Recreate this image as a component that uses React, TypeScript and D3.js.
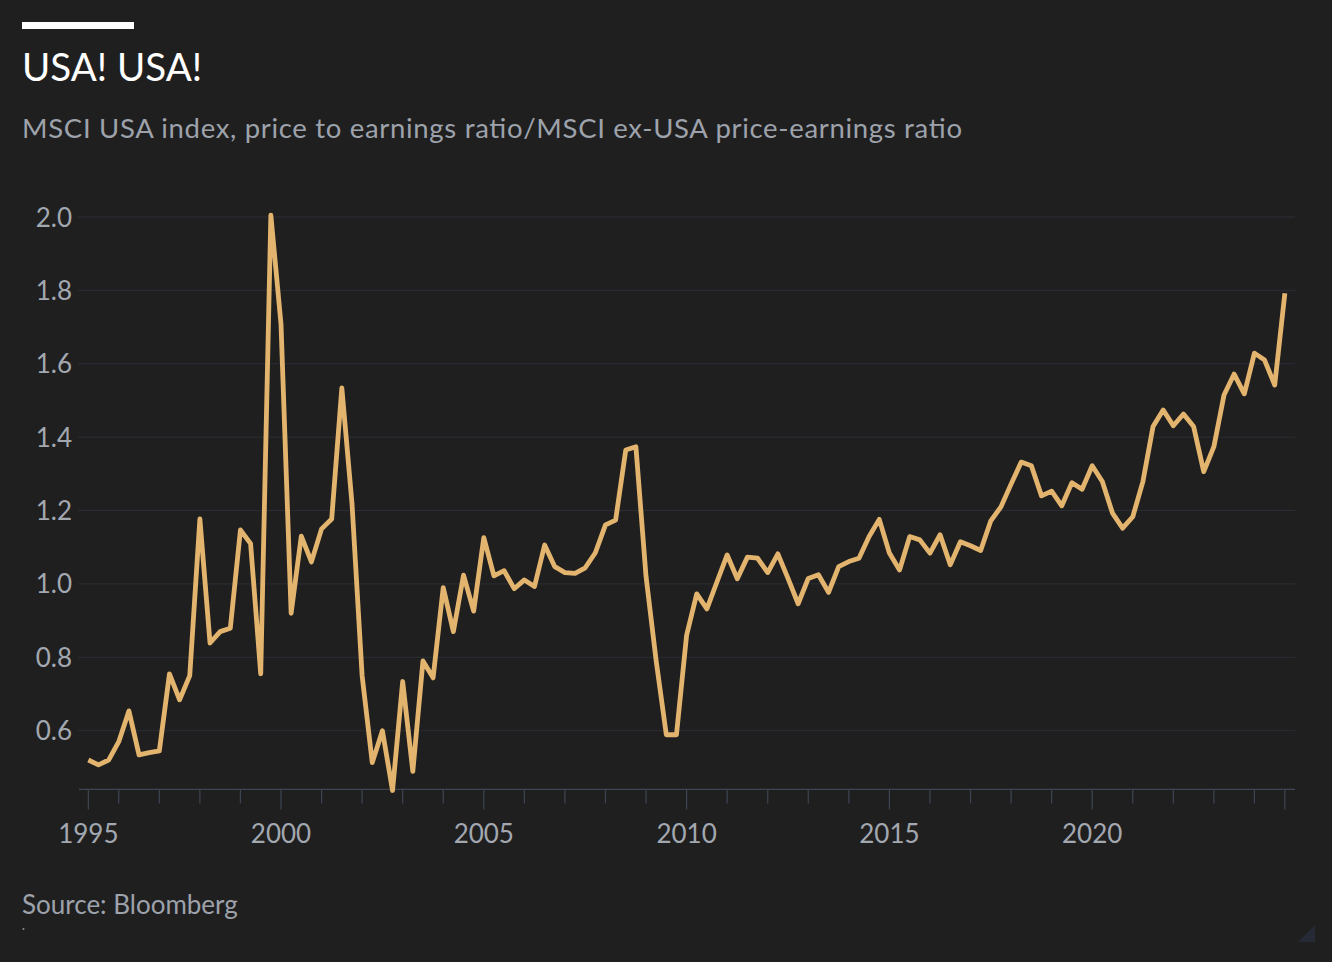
import React from "react";
import * as d3 from "d3";

// Quarterly data, first value = 1995 Q1 (quarter end), last = 2024 Q3
const START_YEAR = 1995;
const ratioValues: number[] = [
  0.52, 0.507, 0.52, 0.57, 0.654, 0.534, 0.54, 0.545,
  0.755, 0.684, 0.75, 1.177, 0.839, 0.87, 0.879, 1.147,
  1.11, 0.755, 2.005, 1.708, 0.92, 1.13, 1.06, 1.15,
  1.177, 1.534, 1.22, 0.75, 0.513, 0.6, 0.437, 0.734,
  0.489, 0.79, 0.744, 0.99, 0.87, 1.024, 0.926, 1.126,
  1.022, 1.036, 0.987, 1.011, 0.993, 1.106, 1.047, 1.031,
  1.029, 1.044, 1.085, 1.161, 1.174, 1.365, 1.374, 1.02,
  0.79, 0.589, 0.589, 0.86, 0.973, 0.932, 1.006, 1.079,
  1.014, 1.073, 1.07, 1.031, 1.082, 1.015, 0.946, 1.015,
  1.025, 0.977, 1.047, 1.061, 1.07, 1.129, 1.176, 1.084,
  1.038, 1.129, 1.12, 1.084, 1.134, 1.052, 1.115, 1.104,
  1.091, 1.172, 1.21, 1.272, 1.332, 1.322, 1.24, 1.253,
  1.213, 1.276, 1.258, 1.322, 1.279, 1.193, 1.152, 1.183,
  1.279, 1.429, 1.474, 1.431, 1.463, 1.429, 1.306, 1.374,
  1.515, 1.572, 1.518, 1.629, 1.61, 1.542, 1.792,
];

const yTicks = [0.6, 0.8, 1.0, 1.2, 1.4, 1.6, 1.8, 2.0];
const xLabelYears = [1995, 2000, 2005, 2010, 2015, 2020];
const minorYears = d3.range(1996, 2025);

const title = "USA! USA!";
const subtitle = "MSCI USA index, price to earnings ratio/MSCI ex-USA price-earnings ratio";
const source = "Source: Bloomberg";

const W = 1332;
const H = 962;
const FONT = "Lato, 'Open Sans', sans-serif";
const BG = "#1f1f20";
const LINE = "#e3b46e";
const TICK_TEXT = "#a3a8b0";
const SUB_TEXT = "#9da2ab";
const GRID = "#2b2e34";
const AXIS = "#3e4552";

export default function App() {
  const data = ratioValues.map((v, i) => ({ t: START_YEAR + 0.25 * (i + 1), v }));
  const x = d3.scaleLinear().domain([1995, 2025]).range([78.2, 1295]);
  const y = d3.scaleLinear().domain([0.44, 2.0]).range([789.4, 217]);
  const line = d3
    .line<{ t: number; v: number }>()
    .x((d) => x(d.t))
    .y((d) => y(d.v))
    .curve(d3.curveLinear);

  const firstT = data[0].t;
  const lastT = data[data.length - 1].t;
  const axisY = y(0.44);

  const majorTicks = [firstT, 2000, 2005, 2010, 2015, 2020, lastT];
  const minors = minorYears.filter((yr) => yr % 5 !== 0);

  return (
    <svg
      width={W}
      height={H}
      style={{ position: "absolute", left: 0, top: 0, display: "block" }}
      fontFamily={FONT}
    >
      <rect x={0} y={0} width={W} height={H} fill={BG} />
      <rect x={22} y={22} width={112} height={7} fill="#ffffff" />
      <text x={22} y={81} fill="#ffffff" fontSize={38.5}>
        {title}
      </text>
      <text
        x={22}
        y={138}
        fill={SUB_TEXT}
        fontSize={27.5}
        textLength={940}
        lengthAdjust="spacing"
      >
        {subtitle}
      </text>

      {yTicks.map((t) => (
        <g key={t}>
          <line x1={78} x2={1295} y1={y(t)} y2={y(t)} stroke={GRID} strokeWidth={1} />
          <text x={72} y={y(t) + 9.5} fill={TICK_TEXT} fontSize={26} textAnchor="end">
            {t.toFixed(1)}
          </text>
        </g>
      ))}

      <line x1={79} x2={1295} y1={axisY} y2={axisY} stroke={AXIS} strokeWidth={1.2} />
      {minors.map((yr) => (
        <line key={yr} x1={x(yr)} x2={x(yr)} y1={axisY} y2={axisY + 14} stroke={AXIS} strokeWidth={1.2} />
      ))}
      {majorTicks.map((t, i) => (
        <line key={i} x1={x(t)} x2={x(t)} y1={axisY} y2={axisY + 20} stroke={AXIS} strokeWidth={1.2} />
      ))}
      {xLabelYears.map((yr) => (
        <text
          key={yr}
          x={yr === 1995 ? x(firstT) : x(yr)}
          y={843}
          fill={TICK_TEXT}
          fontSize={26}
          textAnchor="middle"
        >
          {yr}
        </text>
      ))}

      <path
        d={line(data) || ""}
        fill="none"
        stroke={LINE}
        strokeWidth={4.8}
        strokeLinejoin="round"
        strokeLinecap="butt"
      />

      <text x={22} y={914} fill={SUB_TEXT} fontSize={26}>
        {source}
      </text>
      <circle cx={23.5} cy={929} r={1} fill="#8a8f98" />
      <path d="M1315,925 L1315,942 L1298,942 Z" fill="#252a35" />
    </svg>
  );
}
